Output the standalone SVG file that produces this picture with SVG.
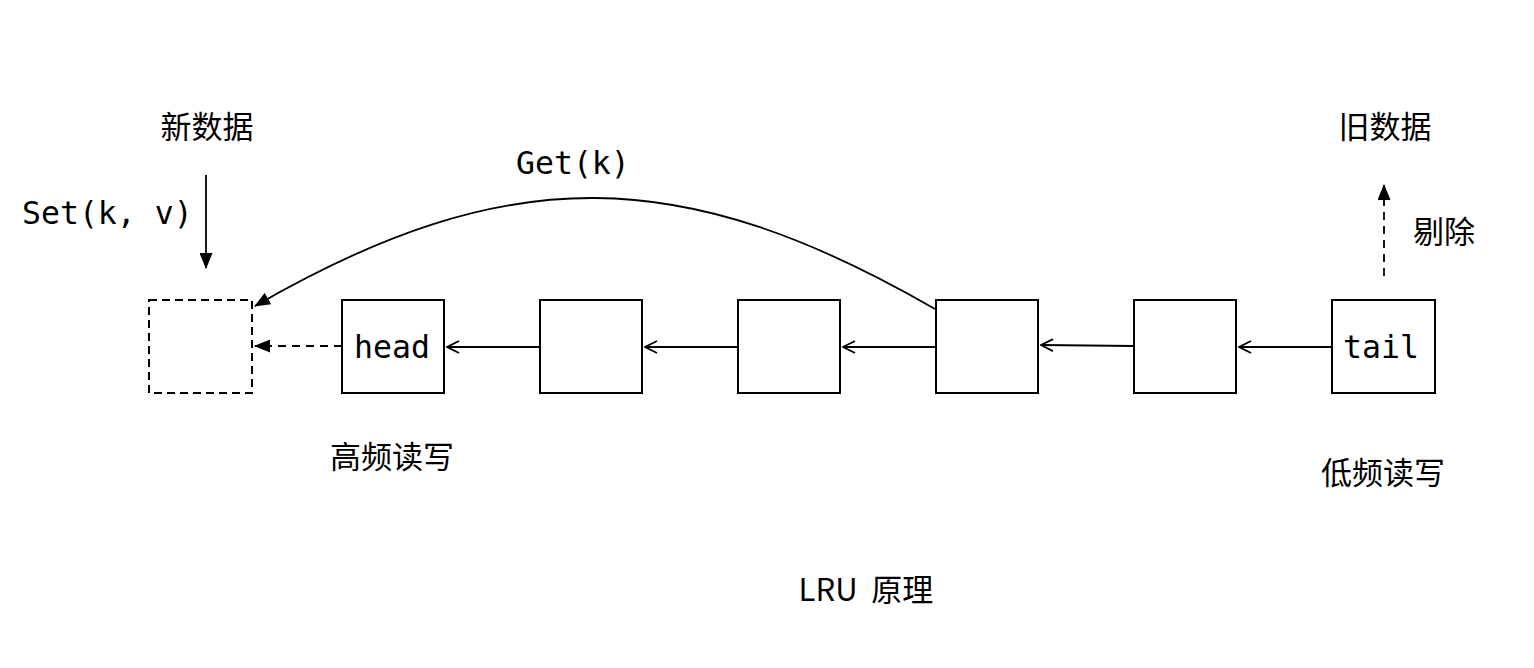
<svg xmlns="http://www.w3.org/2000/svg" width="1534" height="668" viewBox="0 0 1534 668">
<style>
.box{fill:#fff;stroke:#000;stroke-width:2}
.dbox{fill:#fff;stroke:#000;stroke-width:2;stroke-dasharray:8 5}
.ln{fill:none;stroke:#000;stroke-width:1.8}
.dash{stroke-dasharray:8 6}
.mono{font-family:"DejaVu Sans Mono","Liberation Mono",monospace;font-size:31.5px;fill:#000}
.cjk{font-family:"Noto Sans CJK SC","Noto Sans",sans-serif;font-size:31px;fill:#000}
</style>
<defs>
<marker id="fill" viewBox="0 0 16 13" refX="15" refY="6.5" markerWidth="16" markerHeight="13" markerUnits="userSpaceOnUse" orient="auto">
<path d="M0,0 L16,6.5 L0,13 Z" fill="#000"/>
</marker>
<marker id="open" viewBox="0 0 14 14" refX="1" refY="7" markerWidth="14" markerHeight="14" markerUnits="userSpaceOnUse" orient="auto">
<path d="M13,1 L1,7 L13,13" fill="none" stroke="#000" stroke-width="1.8"/>
</marker>
</defs>
<rect width="1534" height="668" fill="#fff"/>
<g id="connectors">
<line class="ln" x1="206" y1="175" x2="206" y2="268" marker-end="url(#fill)"/>
<line class="ln dash" x1="342" y1="346" x2="255" y2="346" marker-end="url(#fill)"/>
<path class="ln" d="M935,309 C682,163 508,160 255,306" marker-end="url(#fill)"/>
<line class="ln dash" x1="1384" y1="276" x2="1384" y2="185" marker-end="url(#fill)"/>
<line class="ln" x1="447" y1="347" x2="540" y2="347" marker-start="url(#open)"/>
<line class="ln" x1="645" y1="347" x2="738" y2="347" marker-start="url(#open)"/>
<line class="ln" x1="843" y1="347" x2="936" y2="347" marker-start="url(#open)"/>
<line class="ln" x1="1041" y1="345" x2="1134" y2="346" marker-start="url(#open)"/>
<line class="ln" x1="1239" y1="347" x2="1332" y2="347" marker-start="url(#open)"/>
</g>
<g id="new-slot"><rect class="dbox" x="149" y="300" width="103" height="93"/></g>
<g id="node-head"><rect class="box" x="342" y="300" width="102" height="93"/><text class="mono" x="392" y="358" text-anchor="middle">head</text></g>
<g id="node-2"><rect class="box" x="540" y="300" width="102" height="93"/></g>
<g id="node-3"><rect class="box" x="738" y="300" width="102" height="93"/></g>
<g id="node-4"><rect class="box" x="936" y="300" width="102" height="93"/></g>
<g id="node-5"><rect class="box" x="1134" y="300" width="102" height="93"/></g>
<g id="node-tail"><rect class="box" x="1332" y="300" width="103" height="93"/><text class="mono" x="1381" y="358" text-anchor="middle">tail</text></g>
<g id="labels">
<text class="cjk" x="207" y="138" text-anchor="middle">新数据</text>
<text class="mono" x="22" y="224">Set(k, v)</text>
<text class="mono" x="516" y="174">Get(k)</text>
<text class="cjk" x="1385" y="138" text-anchor="middle">旧数据</text>
<text class="cjk" x="1413" y="243">剔除</text>
<text class="cjk" x="392" y="468" text-anchor="middle">高频读写</text>
<text class="cjk" x="1383" y="484" text-anchor="middle">低频读写</text>
<text class="cjk" x="866" y="601" text-anchor="middle" xml:space="preserve">LRU  原理</text>
</g>
</svg>
